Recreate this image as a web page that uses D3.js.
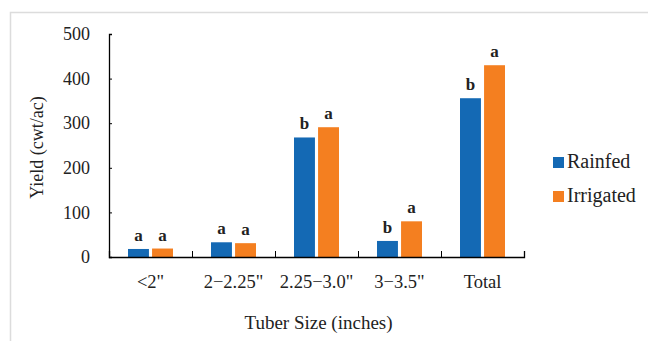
<!DOCTYPE html>
<html>
<head>
<meta charset="utf-8">
<script src="https://cdn.jsdelivr.net/npm/d3@7"></script>
<style>
  body { margin: 0; background: #fff; }
  text { font-family: "Liberation Serif", "DejaVu Serif", serif; fill: #222; }
</style>
</head>
<body>
<div id="chart"></div>
<script>
var categories = ['<2"', '2\u22122.25"', '2.25\u22123.0"', '3\u22123.5"', 'Total']
var seriesNames = ['Rainfed', 'Irrigated']
var rainfed = [18, 33, 268, 36, 356]
var irrigated = [19, 31, 291, 80, 430]
var rainfedLetters = ['a', 'a', 'b', 'b', 'b']
var irrigatedLetters = ['a', 'a', 'a', 'a', 'a']
var yTicks = [0, 100, 200, 300, 400, 500]
var colors = ['#1469b4', '#f47f20']

function draw_chart(width, height) {
    var margin = { top: 34, left: 109, right: 124, bottom: 84 }

    var svg = d3.select("#chart").append("svg")
        .attr("width", width)
        .attr("height", height)

    // light frame around the figure
    svg.append("path")
        .attr("d", "M10.5," + height + "V12.5H" + width)
        .attr("fill", "none")
        .attr("stroke", "#dcdcdc")
        .attr("stroke-width", 1.5)

    var g = svg.append("g")
        .attr("transform", "translate(" + margin.left + "," + margin.top + ")")

    var w = width - margin.left - margin.right
    var h = height - margin.top - margin.bottom

    var x = d3.scaleBand().domain(categories).range([0, w]).padding(0)
    var xs = d3.scaleBand().domain(seriesNames).range([19, x.bandwidth() - 19]).paddingInner(0.13)
    var y = d3.scaleLinear().domain([0, 500]).range([h, 0])

    var rows = categories.map(function (c, i) {
        return {
            cat: c,
            vals: [
                { s: 'Rainfed', v: rainfed[i], l: rainfedLetters[i], c: colors[0] },
                { s: 'Irrigated', v: irrigated[i], l: irrigatedLetters[i], c: colors[1] }
            ]
        }
    })

    var groups = g.selectAll(".grp")
        .data(rows)
        .enter().append("g")
        .attr("class", "grp")
        .attr("transform", function (d) { return "translate(" + x(d.cat) + ",0)" })

    groups.selectAll("rect")
        .data(function (d) { return d.vals })
        .enter().append("rect")
        .attr("x", function (d) { return xs(d.s) })
        .attr("width", xs.bandwidth())
        .attr("y", function (d) { return y(d.v) })
        .attr("height", function (d) { return h - y(d.v) })
        .attr("fill", function (d) { return d.c })

    groups.selectAll(".letter")
        .data(function (d) { return d.vals })
        .enter().append("text")
        .attr("class", "letter")
        .attr("x", function (d) { return xs(d.s) + xs.bandwidth() / 2 })
        .attr("y", function (d) { return y(d.v) - 8 })
        .attr("text-anchor", "middle")
        .style("font-weight", "bold")
        .style("font-size", "17px")
        .text(function (d) { return d.l })

    // y axis
    var yAxis = g.append("g")
        .call(d3.axisLeft(y).tickValues(yTicks).tickSize(-3).tickPadding(19))
    yAxis.selectAll("text").style("font-size", "18px")
    yAxis.select(".domain").attr("stroke", "#000").attr("stroke-width", 1.3)

    // x axis with tick marks between the categories
    var xEdge = d3.scaleLinear().domain([0, categories.length]).range([0, w])
    var xAxis = g.append("g")
        .attr("transform", "translate(0," + h + ")")
        .call(d3.axisBottom(xEdge).ticks(categories.length).tickSize(-6).tickFormat(""))
    xAxis.select(".domain").attr("stroke", "#000").attr("stroke-width", 1.3)

    g.selectAll(".cat")
        .data(categories)
        .enter().append("text")
        .attr("class", "cat")
        .attr("x", function (d) { return x(d) + x.bandwidth() / 2 })
        .attr("y", h + 31)
        .attr("text-anchor", "middle")
        .style("font-size", "18.5px")
        .text(function (d) { return d })

    g.append("text")
        .attr("x", w / 2 + 2)
        .attr("y", h + 72)
        .attr("text-anchor", "middle")
        .style("font-size", "19px")
        .text("Tuber Size (inches)")

    g.append("text")
        .attr("transform", "translate(" + (-66) + "," + (h / 2 + 2) + ") rotate(-90)")
        .attr("text-anchor", "middle")
        .style("font-size", "18px")
        .text("Yield (cwt/ac)")

    // legend
    var legend = svg.selectAll(".leg")
        .data(seriesNames)
        .enter().append("g")
        .attr("class", "leg")
        .attr("transform", function (d, i) { return "translate(553," + (157 + i * 34) + ")" })
    legend.append("rect")
        .attr("width", 11).attr("height", 11)
        .attr("fill", function (d, i) { return colors[i] })
    legend.append("text")
        .attr("x", 14).attr("y", 11)
        .style("font-size", "20px")
        .text(function (d) { return d })
}

draw_chart(648, 341)
</script>
</body>
</html>
